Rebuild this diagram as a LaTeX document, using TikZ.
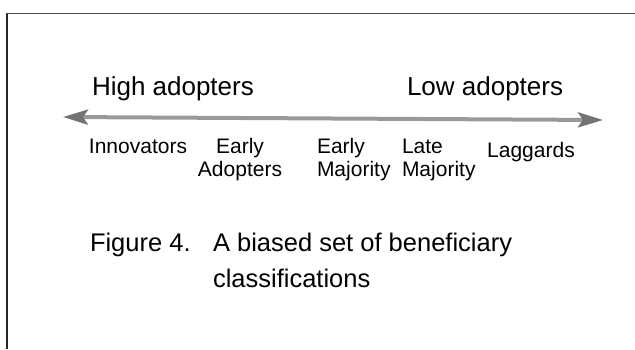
\documentclass[tikz,border=0pt]{standalone}
\usepackage{fontspec}
\setmainfont{Liberation Sans}
\usetikzlibrary{arrows.meta}

\begin{document}
\begin{tikzpicture}[x=1pt, y=-1pt, thick,
    every node/.style={inner sep=0pt, outer sep=0pt},
    headline/.style={anchor=base west, font=\fontsize{26}{30}\selectfont},
    group/.style={anchor=base, align=center, font=\fontsize{21}{23}\selectfont},
    caption/.style={anchor=base west, align=left, font=\fontsize{25.5}{36}\selectfont},
    >={Stealth[length=25pt, width=15pt, inset=5pt, color=black!55]}]
    \useasboundingbox (0, 0) rectangle (635, 349);
    % frame
    \draw[line width=1.8pt, black!85] (7, 349) -- (7, 13.5);
    \draw[line width=1.4pt, black!70] (6.1, 13.5) -- (635, 13.5);

    \node[headline] at (92, 95)   (high) {High adopters};
    \node[headline] at (407, 95)  (low) {Low adopters};

    \coordinate (left) at (63, 117);
    \coordinate (right) at (603, 120);
    \draw[<->, line width=4pt, gray!80] (left) -- (right);

    % two-line labels sit on the baseline of their last line
    \node[group] at (138, 153)  (inno) {Innovators};
    \node[group] at (240, 176)  (eadopt) {Early\\Adopters};
    \node[group, align=left] at (317, 176) [anchor=base west] (emaj) {Early\\Majority};
    \node[group, align=left] at (402, 176) [anchor=base west] (lmaj) {Late\\Majority};
    \node[group] at (531, 157)  (lag) {Laggards};

    \node[caption] at (90, 251)  (fig) {Figure 4.};
    \node[caption] at (213, 287) (title) {A biased set of beneficiary\\classifications};
\end{tikzpicture}
\end{document}
